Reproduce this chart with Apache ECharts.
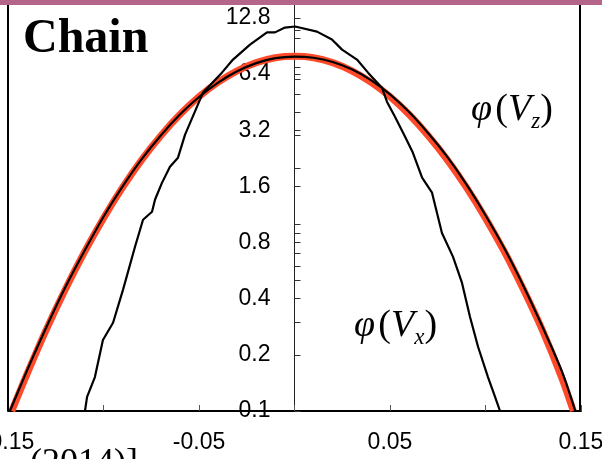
<!DOCTYPE html>
<html>
<head>
<meta charset="utf-8">
<script src="https://cdn.jsdelivr.net/npm/echarts@6/dist/echarts.min.js"></script>
<style>
  html, body { margin: 0; padding: 0; background: #ffffff; }
  #chart { width: 602px; height: 459px; }
</style>
</head>
<body>
<div id="chart"></div>
<script>
// Velocity distributions of the chain: phi(Vz) fit, phi(Vz) measured, phi(Vx) measured
const xTickLabels = [-0.15, -0.05, 0.05, 0.15];
const yTickLabels = [0.1, 0.2, 0.4, 0.8, 1.6, 3.2, 6.4, 12.8];
const yMinorTicks = [0.3, 0.5, 0.6, 0.7, 0.9, 1, 2, 3, 4, 5, 6, 7, 8, 10, 11];

// phi(Vz), broad curve (red)
const vzFitX = [-0.148, -0.14, -0.13, -0.12, -0.11, -0.10, -0.09, -0.08, -0.07, -0.06, -0.05, -0.04, -0.03, -0.02, -0.01, 0,
  0.01, 0.02, 0.03, 0.04, 0.05, 0.06, 0.07, 0.08, 0.09, 0.10, 0.11, 0.12, 0.13, 0.14, 0.146];
const vzFitY = [0.1, 0.158, 0.272, 0.448, 0.71, 1.08, 1.58, 2.22, 2.99, 3.88, 4.84, 5.79, 6.66, 7.37, 7.82, 7.96,
  7.82, 7.37, 6.66, 5.79, 4.84, 3.88, 2.99, 2.22, 1.58, 1.08, 0.71, 0.445, 0.268, 0.15, 0.1];

// phi(Vz), thin black curve
const vzX = [-0.149, -0.14, -0.13, -0.12, -0.11, -0.10, -0.09, -0.08, -0.07, -0.06, -0.05, -0.04, -0.03, -0.02, -0.01, 0,
  0.01, 0.02, 0.03, 0.04, 0.05, 0.06, 0.07, 0.08, 0.09, 0.10, 0.11, 0.12, 0.13, 0.14, 0.147];
const vzY = [0.1, 0.165, 0.28, 0.46, 0.72, 1.1, 1.6, 2.24, 3.0, 3.88, 4.82, 5.76, 6.62, 7.32, 7.78, 7.94,
  7.82, 7.42, 6.78, 5.94, 4.98, 4.0, 3.08, 2.3, 1.64, 1.12, 0.74, 0.465, 0.28, 0.163, 0.1];

// phi(Vx), narrow black curve
const vxX = [-0.1097, -0.1086, -0.1045, -0.1003, -0.0950, -0.0898, -0.0835, -0.0793, -0.0746, -0.0730, -0.0694, -0.0652,
  -0.0610, -0.0573, -0.0479, -0.0380, -0.0322, -0.0233, -0.0144, -0.0102, -0.0050, 0.0003, 0.0118, 0.0196, 0.0249,
  0.0327, 0.0385, 0.0458, 0.0484, 0.0526, 0.0579, 0.0620, 0.0668, 0.0720, 0.0772, 0.0830, 0.0877, 0.0919, 0.0961,
  0.1013, 0.1050, 0.1076];
const vxY = [0.1, 0.119, 0.152, 0.240, 0.297, 0.446, 0.759, 1.06, 1.17, 1.36, 1.67, 2.04,
  2.28, 3.03, 5.09, 6.51, 7.65, 9.20, 10.7, 10.7, 11.35, 11.5, 10.8, 9.79, 8.65,
  7.65, 6.51, 5.41, 4.55, 3.78, 2.95, 2.42, 1.78, 1.48, 0.90, 0.67, 0.486, 0.319, 0.221,
  0.152, 0.119, 0.1];

const pairs = (xs, ys) => xs.map((x, i) => [x, ys[i]]);

const chart = echarts.init(document.getElementById('chart'), null, { renderer: 'canvas' });

const sans = 'Liberation Sans, Arial, sans-serif';
const serif = 'Liberation Serif, Times New Roman, serif';

// plot area spans x 8..581; the vertical axis sits at the centre (x = 0)
const gridLeft = 8, gridRight = 21;
const plotWidth = 602 - gridLeft - gridRight;

const phiRich = {
  f: { fontFamily: serif, fontStyle: 'italic', fontSize: 38, lineHeight: 46, fill: '#000' },
  p: { fontFamily: serif, fontSize: 38, lineHeight: 46, fill: '#000' },
  v: { fontFamily: serif, fontStyle: 'italic', fontSize: 38, lineHeight: 46, fill: '#000' },
  s: { fontFamily: serif, fontStyle: 'italic', fontSize: 23, lineHeight: 23, verticalAlign: 'bottom', fill: '#000' }
};

chart.setOption({
  animation: false,
  backgroundColor: '#ffffff',
  grid: { left: gridLeft, right: gridRight, top: 5, bottom: 48, containLabel: false, outerBoundsMode: 'none' },
  xAxis: {
    type: 'value',
    min: -0.15,
    max: 0.15,
    interval: 0.05,
    axisLine: { onZero: false, lineStyle: { color: '#000', width: 2 } },
    axisTick: { inside: true, length: 6, lineStyle: { color: '#555', width: 1 } },
    axisLabel: {
      customValues: xTickLabels,
      color: '#000',
      fontFamily: sans,
      fontSize: 23,
      margin: 20,
      formatter: v => String(v)
    },
    splitLine: { show: false }
  },
  yAxis: {
    type: 'log',
    logBase: 2,
    min: 0.1,
    max: 15,
    position: 'left',
    offset: -plotWidth / 2,
    axisLine: { onZero: false, lineStyle: { color: '#222', width: 1 } },
    axisTick: {
      inside: true,
      length: 6,
      customValues: yTickLabels.concat(yMinorTicks),
      lineStyle: { color: '#333', width: 1 }
    },
    axisLabel: {
      customValues: yTickLabels,
      color: '#000',
      fontFamily: sans,
      fontSize: 23,
      margin: 24,
      padding: [10, 0, 0, 0],
      formatter: v => String(v)
    },
    splitLine: { show: false },
    minorTick: { show: false }
  },
  series: [
    {
      name: 'phi(Vz) fit',
      type: 'line',
      data: pairs(vzFitX, vzFitY),
      smooth: 0.3,
      showSymbol: false,
      lineStyle: { color: '#ff4a2a', width: 7 },
      z: 2
    },
    {
      name: 'phi(Vz)',
      type: 'line',
      data: pairs(vzX, vzY),
      smooth: 0.3,
      showSymbol: false,
      lineStyle: { color: '#000', width: 2.2 },
      z: 3
    },
    {
      name: 'phi(Vx)',
      type: 'line',
      data: pairs(vxX, vxY),
      showSymbol: false,
      lineStyle: { color: '#000', width: 2.2 },
      z: 3
    }
  ],
  graphic: [
    { type: 'rect', left: 0, top: 0, shape: { width: 602, height: 5 }, style: { fill: '#b5658a' }, z: 10 },
    { type: 'line', shape: { x1: 8, y1: 5, x2: 8, y2: 411 }, style: { stroke: '#000', lineWidth: 2 }, z: 10 },
    { type: 'line', shape: { x1: 580, y1: 5, x2: 580, y2: 411 }, style: { stroke: '#000', lineWidth: 2 }, z: 10 },
    {
      type: 'text', x: 23, y: 40, z: 10,
      style: { text: 'Chain', font: 'bold 48px ' + serif, fill: '#000', verticalAlign: 'middle' }
    },
    {
      type: 'text', x: 471, y: 110, z: 10,
      style: { text: '{f|φ} {p|(}{v|V}{s|z}{p|)}', verticalAlign: 'middle', rich: phiRich }
    },
    {
      type: 'text', x: 354, y: 326, z: 10,
      style: { text: '{f|φ} {p|(}{v|V}{s|x}{p|)}', verticalAlign: 'middle', rich: phiRich }
    },
    {
      type: 'text', x: 30, y: 446, z: 10,
      style: { text: '(2014)]', font: '36px ' + serif, fill: '#000', verticalAlign: 'top' }
    }
  ]
});
</script>
</body>
</html>
